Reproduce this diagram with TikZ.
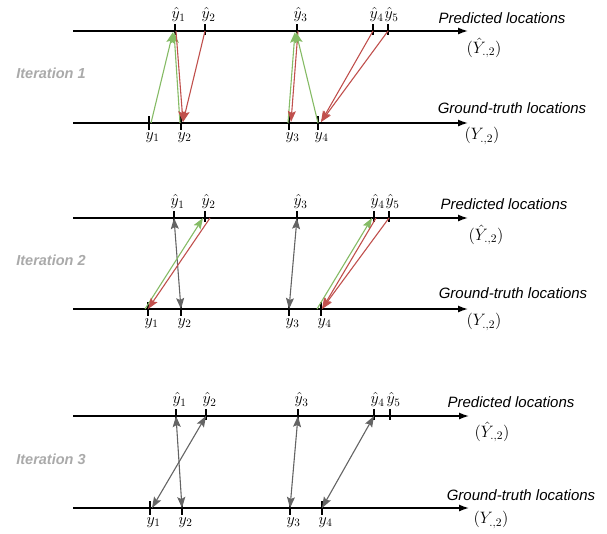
\RequirePackage{fix-cm}
\documentclass[tikz,border=0pt]{standalone}
\usepackage{fontspec}
\newfontfamily\hel{Liberation Sans}
\usetikzlibrary{arrows.meta}
\definecolor{ggreen}{RGB}{133,187,101}
\definecolor{rred}{RGB}{192,80,77}
\definecolor{garrow}{RGB}{100,100,100}
\definecolor{itgray}{RGB}{170,170,170}
\tikzset{
  axisline/.style={line width=1.4pt,-{Latex[length=10pt,width=7pt]}},
  tickmark/.style={line width=1.2pt},
  garr/.style={draw=ggreen,line width=1.1pt,-{Stealth[length=11pt,width=8pt,inset=2pt]}},
  rarr/.style={draw=rred,line width=1.1pt,-{Stealth[length=11pt,width=8pt,inset=2pt]}},
  darr/.style={draw=garrow,line width=1.1pt,{Stealth[length=11pt,width=8pt,inset=2pt]}-{Stealth[length=11pt,width=8pt,inset=2pt]}},
  hatlab/.style={anchor=south,inner sep=0pt,xshift=3.5pt,font=\fontsize{16}{18}\selectfont},
  ylab/.style={anchor=north,inner sep=0pt,xshift=3.5pt,font=\fontsize{16}{18}\selectfont},
  desc/.style={inner sep=0pt,font=\hel\itshape\fontsize{15}{17}\selectfont},
  setlab/.style={inner sep=0pt,font=\fontsize{16.5}{19}\selectfont},
  itlab/.style={inner sep=0pt,text=itgray,font=\hel\bfseries\itshape\fontsize{14.5}{17}\selectfont},
}
\begin{document}
\begin{tikzpicture}[x=1pt,y=-1pt]
\useasboundingbox (0,0) rectangle (607,533);

% ---------------- Panel 1 ----------------
\coordinate (p1ts) at (73,31);  \coordinate (p1te) at (468,31);
\coordinate (p1bs) at (73,123); \coordinate (p1be) at (468,123);
\draw[axisline] (p1ts) -- (p1te);
\draw[axisline] (p1bs) -- (p1be);
\foreach \n/\x in {1/175,2/205,3/297,4/373,5/388}{
  \coordinate (p1h\n) at (\x,31);
  \draw[tickmark] ([yshift=7pt]p1h\n) -- ([yshift=-4pt]p1h\n);
  \node[hatlab] (p1hl\n) at ([yshift=9pt]p1h\n) {$\hat{y}_{\n}$};
}
\foreach \n/\x in {1/149,2/181,3/289,4/318}{
  \coordinate (p1y\n) at (\x,123);
  \draw[tickmark] ([yshift=7pt]p1y\n) -- ([yshift=-7pt]p1y\n);
  \node[ylab] (p1yl\n) at ([yshift=-9pt]p1y\n) {$y_{\n}$};
}
\node[desc] (p1pred) at (502,18) {Predicted locations};
\node[setlab] (p1Yh) at (484,48) {$(\hat{Y}_{.,2})$};
\node[desc] (p1gt) at (512,108) {Ground-truth locations};
\node[setlab] (p1Y) at (482,136) {$(Y_{.,2})$};
\node[itlab] (it1) at (51,73) {Iteration 1};

\draw[garr] ([xshift=2pt]p1y1) -- ([xshift=-2pt,yshift=-1pt]p1h1);
\draw[garr] ([xshift=-1pt]p1y2) -- ([xshift=-1pt,yshift=-1pt]p1h1);
\draw[rarr] ([xshift=1pt]p1h1) -- ([xshift=2pt,yshift=1pt]p1y2);
\draw[rarr] (p1h2) -- ([xshift=2pt,yshift=1pt]p1y2);
\draw[garr] ([xshift=-1pt]p1y3) -- ([xshift=-2pt,yshift=-1pt]p1h3);
\draw[rarr] ([xshift=1pt]p1h3) -- ([xshift=2pt,yshift=1pt]p1y3);
\draw[garr] (p1y4) -- ([xshift=-1pt,yshift=-1pt]p1h3);
\draw[rarr] (p1h4) -- ([xshift=3pt,yshift=1pt]p1y4);
\draw[rarr] (p1h5) -- ([xshift=3pt,yshift=1pt]p1y4);

% ---------------- Panel 2 ----------------
\coordinate (p2ts) at (73,218);  \coordinate (p2te) at (468,218);
\coordinate (p2bs) at (73,309); \coordinate (p2be) at (468,309);
\draw[axisline] (p2ts) -- (p2te);
\draw[axisline] (p2bs) -- (p2be);
\foreach \n/\x in {1/174,2/205,3/297,4/374,5/389}{
  \coordinate (p2h\n) at (\x,218);
  \draw[tickmark] ([yshift=7pt]p2h\n) -- ([yshift=-4pt]p2h\n);
  \node[hatlab] (p2hl\n) at ([yshift=9pt]p2h\n) {$\hat{y}_{\n}$};
}
\foreach \n/\x in {1/148,2/181,3/289,4/321}{
  \coordinate (p2y\n) at (\x,309);
  \draw[tickmark] ([yshift=7pt]p2y\n) -- ([yshift=-7pt]p2y\n);
  \node[ylab] (p2yl\n) at ([yshift=-9pt]p2y\n) {$y_{\n}$};
}
\node[desc] (p2pred) at (504,204) {Predicted locations};
\node[setlab] (p2Yh) at (486,235) {$(\hat{Y}_{.,2})$};
\node[desc] (p2gt) at (513,293) {Ground-truth locations};
\node[setlab] (p2Y) at (484,322) {$(Y_{.,2})$};
\node[itlab] (it2) at (51,260) {Iteration 2};

\draw[darr] (p2h1) -- (p2y2);
\draw[garr] ([xshift=-3pt]p2y1) -- ([xshift=-2pt]p2h2);
\draw[rarr] ([xshift=5pt]p2h2) -- (p2y1);
\draw[darr] (p2h3) -- (p2y3);
\draw[garr] ([xshift=-4pt]p2y4) -- ([xshift=-2pt]p2h4);
\draw[rarr] ([xshift=2pt]p2h4) -- ([xshift=1pt]p2y4);
\draw[rarr] (p2h5) -- ([xshift=1pt]p2y4);

% ---------------- Panel 3 ----------------
\coordinate (p3ts) at (73,416);  \coordinate (p3te) at (469,416);
\coordinate (p3bs) at (73,508); \coordinate (p3be) at (469,508);
\draw[axisline] (p3ts) -- (p3te);
\draw[axisline] (p3bs) -- (p3be);
\foreach \n/\x in {1/176,2/206,3/298,4/374,5/390}{
  \coordinate (p3h\n) at (\x,416);
  \draw[tickmark] ([yshift=7pt]p3h\n) -- ([yshift=-4pt]p3h\n);
  \node[hatlab] (p3hl\n) at ([yshift=9pt]p3h\n) {$\hat{y}_{\n}$};
}
\foreach \n/\x in {1/150,2/182,3/290,4/322}{
  \coordinate (p3y\n) at (\x,508);
  \draw[tickmark] ([yshift=7pt]p3y\n) -- ([yshift=-7pt]p3y\n);
  \node[ylab] (p3yl\n) at ([yshift=-9pt]p3y\n) {$y_{\n}$};
}
\node[desc] (p3pred) at (511,402) {Predicted locations};
\node[setlab] (p3Yh) at (492,432) {$(\hat{Y}_{.,2})$};
\node[desc] (p3gt) at (521,495) {Ground-truth locations};
\node[setlab] (p3Y) at (491,520) {$(Y_{.,2})$};
\node[itlab] (it3) at (51,459) {Iteration 3};

\draw[darr] (p3h1) -- (p3y2);
\draw[darr] (p3h2) -- ([xshift=2pt]p3y1);
\draw[darr] (p3h3) -- (p3y3);
\draw[darr] (p3h4) -- (p3y4);
\end{tikzpicture}
\end{document}
